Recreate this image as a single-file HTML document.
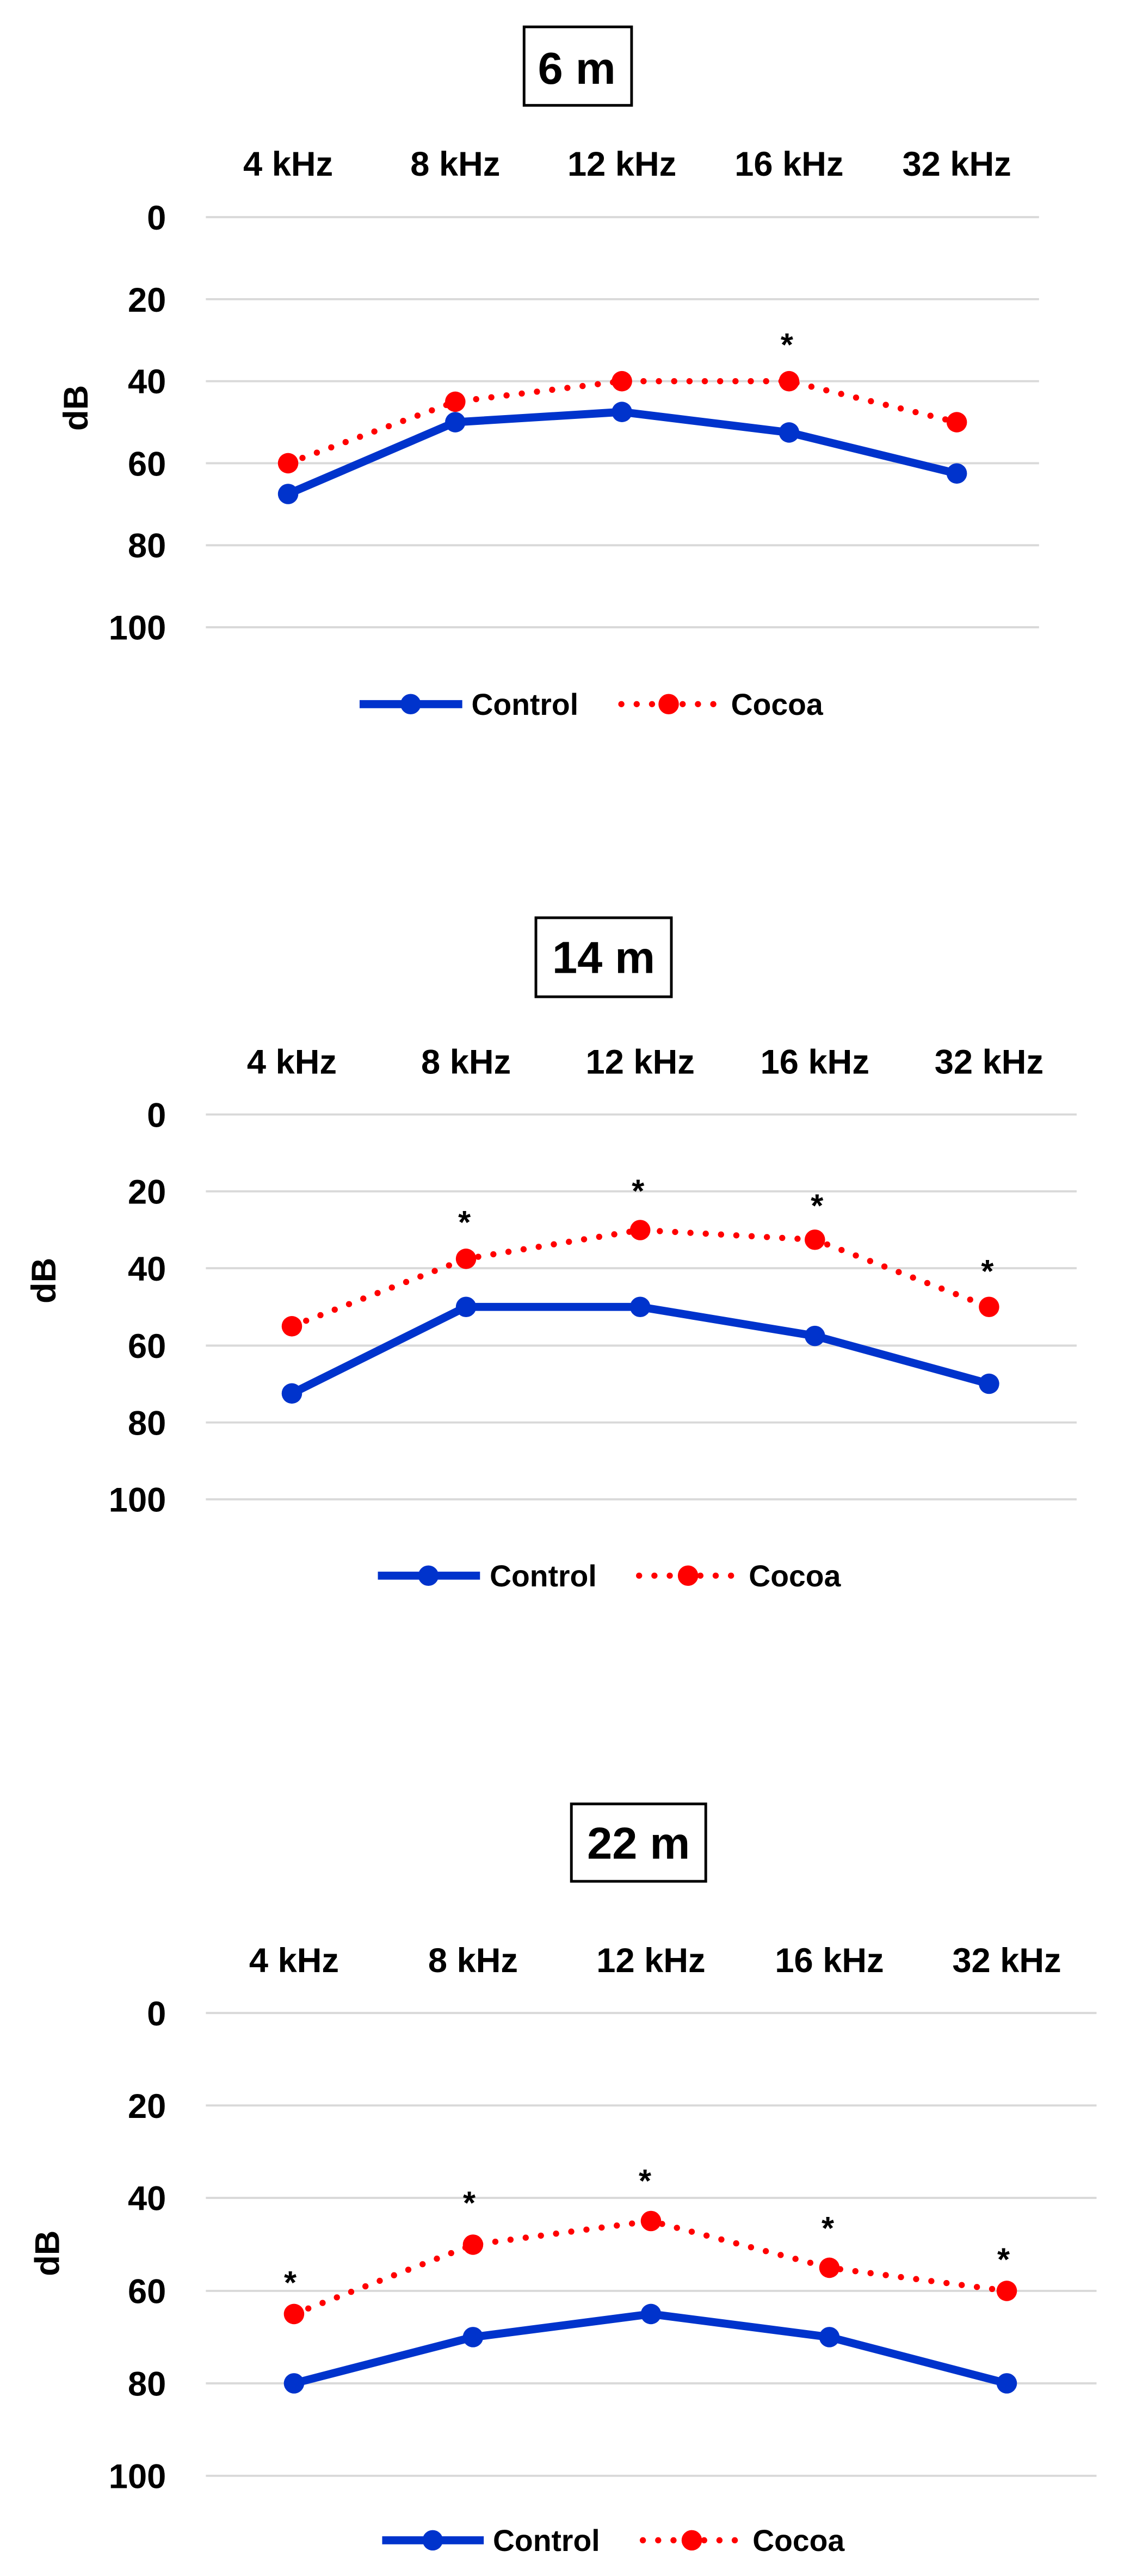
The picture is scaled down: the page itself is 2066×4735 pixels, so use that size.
<!DOCTYPE html>
<html><head><meta charset="utf-8"><style>
html,body{margin:0;padding:0;background:#fff}
svg{display:block}
text{font-family:"Liberation Sans",sans-serif;font-weight:bold;fill:#000}
.t{font-size:64px;text-anchor:middle}
.y{font-size:64px;text-anchor:end}
.ti{font-size:84px;text-anchor:middle}
.lg{font-size:56px}
.st{font-size:60px;text-anchor:middle}
.g{stroke:#d9d9d9;stroke-width:4}
.c{fill:none;stroke:#0033cc;stroke-width:15;stroke-linejoin:round}
.r{fill:none;stroke:#ff0000;stroke-width:11.5;stroke-dasharray:0 28.5;stroke-linecap:round}
.cm{fill:#0033cc}
.rm{fill:#ff0000}
</style></head><body>
<svg width="2066" height="4735" viewBox="0 0 2066 4735" xmlns="http://www.w3.org/2000/svg">
<!-- Chart 1 -->
<g transform="scale(0.988)">
<rect x="975" y="50" width="200" height="146" fill="none" stroke="#000" stroke-width="5"/>
<text class="ti" x="1073" y="156">6 m</text>
<text class="t" x="536" y="327">4 kHz</text><text class="t" x="847" y="327">8 kHz</text><text class="t" x="1157" y="327">12 kHz</text><text class="t" x="1468" y="327">16 kHz</text><text class="t" x="1780" y="327">32 kHz</text>
<g class="g"><line x1="383" x2="1933" y1="404" y2="404"/><line x1="383" x2="1933" y1="556.6" y2="556.6"/><line x1="383" x2="1933" y1="709.2" y2="709.2"/><line x1="383" x2="1933" y1="861.8" y2="861.8"/><line x1="383" x2="1933" y1="1014.4" y2="1014.4"/><line x1="383" x2="1933" y1="1167" y2="1167"/></g>
<text class="y" x="309" y="427">0</text><text class="y" x="309" y="580">20</text><text class="y" x="309" y="732">40</text><text class="y" x="309" y="885">60</text><text class="y" x="309" y="1037">80</text><text class="y" x="309" y="1190">100</text>
<text style="font-size:64px;text-anchor:middle" transform="translate(163,759) rotate(-90)">dB</text>
<polyline class="c" points="536,919 847,785.5 1157,766.4 1468,804.6 1780,880.9"/>
<g class="cm"><circle cx="536" cy="919" r="19"/><circle cx="847" cy="785.5" r="19"/><circle cx="1157" cy="766.4" r="19"/><circle cx="1468" cy="804.6" r="19"/><circle cx="1780" cy="880.9" r="19"/></g>
<polyline class="r" points="536,861.8 847,747.4 1157,709.2 1468,709.2 1780,785.5"/>
<g class="rm"><circle cx="536" cy="861.8" r="19"/><circle cx="847" cy="747.4" r="19"/><circle cx="1157" cy="709.2" r="19"/><circle cx="1468" cy="709.2" r="19"/><circle cx="1780" cy="785.5" r="19"/></g>
<text class="st" x="1464" y="662">*</text>
<line x1="669" x2="860" y1="1310" y2="1310" stroke="#0033cc" stroke-width="15"/><circle class="cm" cx="764" cy="1310" r="19"/>
<text class="lg" x="877" y="1330">Control</text>
<line x1="1156" x2="1333" y1="1310" y2="1310" class="r"/><circle class="rm" cx="1244" cy="1310" r="19"/>
<text class="lg" x="1360" y="1330">Cocoa</text>
</g>

<!-- Chart 2 -->
<g transform="translate(0,1600) scale(0.988) translate(0,-1600)">
<rect x="997" y="1688" width="252" height="147" fill="none" stroke="#000" stroke-width="5"/>
<text class="ti" x="1123" y="1791">14 m</text>
<text class="t" x="543" y="1978">4 kHz</text><text class="t" x="867" y="1978">8 kHz</text><text class="t" x="1191" y="1978">12 kHz</text><text class="t" x="1516" y="1978">16 kHz</text><text class="t" x="1840" y="1978">32 kHz</text>
<g class="g"><line x1="383" x2="2003" y1="2054" y2="2054"/><line x1="383" x2="2003" y1="2197" y2="2197"/><line x1="383" x2="2003" y1="2340" y2="2340"/><line x1="383" x2="2003" y1="2484" y2="2484"/><line x1="383" x2="2003" y1="2627" y2="2627"/><line x1="383" x2="2003" y1="2770" y2="2770"/></g>
<text class="y" x="309" y="2077">0</text><text class="y" x="309" y="2220">20</text><text class="y" x="309" y="2363">40</text><text class="y" x="309" y="2507">60</text><text class="y" x="309" y="2650">80</text><text class="y" x="309" y="2793">100</text>
<text style="font-size:64px;text-anchor:middle" transform="translate(103,2363) rotate(-90)">dB</text>
<polyline class="c" points="543,2573 867,2412 1191,2412 1516,2466 1840,2555"/>
<g class="cm"><circle cx="543" cy="2573" r="19"/><circle cx="867" cy="2412" r="19"/><circle cx="1191" cy="2412" r="19"/><circle cx="1516" cy="2466" r="19"/><circle cx="1840" cy="2555" r="19"/></g>
<polyline class="r" points="543,2448 867,2322.5 1191,2269 1516,2287 1840,2412"/>
<g class="rm"><circle cx="543" cy="2448" r="19"/><circle cx="867" cy="2322.5" r="19"/><circle cx="1191" cy="2269" r="19"/><circle cx="1516" cy="2287" r="19"/><circle cx="1840" cy="2412" r="19"/></g>
<text class="st" x="864" y="2275">*</text><text class="st" x="1187" y="2217">*</text><text class="st" x="1520" y="2244">*</text><text class="st" x="1837" y="2366">*</text>
<line x1="703" x2="893" y1="2912" y2="2912" stroke="#0033cc" stroke-width="15"/><circle class="cm" cx="797" cy="2912" r="19"/>
<text class="lg" x="911" y="2932">Control</text>
<line x1="1189" x2="1367" y1="2912" y2="2912" class="r"/><circle class="rm" cx="1280" cy="2912" r="19"/>
<text class="lg" x="1393" y="2932">Cocoa</text>
</g>

<!-- Chart 3 -->
<g transform="translate(0,3300) scale(0.988) translate(0,-3300)">
<rect x="1063" y="3316" width="250" height="144" fill="none" stroke="#000" stroke-width="5"/>
<text class="ti" x="1188" y="3418">22 m</text>
<text class="t" x="547" y="3629">4 kHz</text><text class="t" x="880" y="3629">8 kHz</text><text class="t" x="1211" y="3629">12 kHz</text><text class="t" x="1543" y="3629">16 kHz</text><text class="t" x="1873" y="3629">32 kHz</text>
<g class="g"><line x1="383" x2="2040" y1="3705" y2="3705"/><line x1="383" x2="2040" y1="3877" y2="3877"/><line x1="383" x2="2040" y1="4049" y2="4049"/><line x1="383" x2="2040" y1="4222" y2="4222"/><line x1="383" x2="2040" y1="4394" y2="4394"/><line x1="383" x2="2040" y1="4566" y2="4566"/></g>
<text class="y" x="309" y="3728">0</text><text class="y" x="309" y="3900">20</text><text class="y" x="309" y="4072">40</text><text class="y" x="309" y="4245">60</text><text class="y" x="309" y="4417">80</text><text class="y" x="309" y="4589">100</text>
<text style="font-size:64px;text-anchor:middle" transform="translate(110,4152) rotate(-90)">dB</text>
<polyline class="c" points="547,4394 880,4308 1211,4265 1543,4308 1873,4394"/>
<g class="cm"><circle cx="547" cy="4394" r="19"/><circle cx="880" cy="4308" r="19"/><circle cx="1211" cy="4265" r="19"/><circle cx="1543" cy="4308" r="19"/><circle cx="1873" cy="4394" r="19"/></g>
<polyline class="r" points="547,4265 880,4136 1211,4092 1543,4179 1873,4222"/>
<g class="rm"><circle cx="547" cy="4265" r="19"/><circle cx="880" cy="4136" r="19"/><circle cx="1211" cy="4092" r="19"/><circle cx="1543" cy="4179" r="19"/><circle cx="1873" cy="4222" r="19"/></g>
<text class="st" x="540" y="4227">*</text><text class="st" x="873" y="4079">*</text><text class="st" x="1200" y="4038">*</text><text class="st" x="1540" y="4126">*</text><text class="st" x="1867" y="4184">*</text>
<line x1="711" x2="900" y1="4686" y2="4686" stroke="#0033cc" stroke-width="15"/><circle class="cm" cx="805" cy="4686" r="19"/>
<text class="lg" x="917" y="4706">Control</text>
<line x1="1196" x2="1373" y1="4686" y2="4686" class="r"/><circle class="rm" cx="1287" cy="4686" r="19"/>
<text class="lg" x="1400" y="4706">Cocoa</text>
</g>
</svg>
</body></html>
